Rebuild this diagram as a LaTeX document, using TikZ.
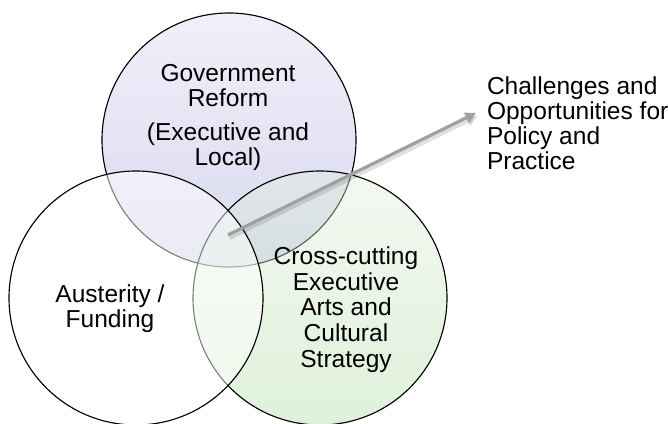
\documentclass[tikz,border=0pt]{standalone}
\usepackage{fontspec}
\setmainfont{Liberation Sans}
\usetikzlibrary{arrows.meta}
\definecolor{lavTop}{RGB}{240,240,250}
\definecolor{lavBot}{RGB}{216,216,239}
\definecolor{grnTop}{RGB}{227,240,222}
\definecolor{grnBot}{RGB}{177,222,167}
\definecolor{arrowgray}{RGB}{160,160,160}
\begin{document}
\begin{tikzpicture}[x=0.75pt,y=-0.75pt,
  venn/.style={circle, draw=black, line width=0.85pt, minimum size=190.5pt, inner sep=0pt, outer sep=0pt},
  label/.style={inner sep=0pt, outer sep=0pt, font=\fontsize{18.4pt}{18.75pt}\selectfont, text=black},
  connector/.style={draw=arrowgray, line width=2.4pt, -{Triangle[length=8pt,width=8pt]}},
  shadowline/.style={draw=black, opacity=0.12, line width=3pt, -{Triangle[length=8.5pt,width=8.5pt]}}
]
\useasboundingbox (0,0) rectangle (668,424);
% circles
\node[venn, top color=lavTop, bottom color=lavBot] (gov) at (229,140) {};
\node[venn, top color=grnTop, bottom color=grnBot, fill opacity=0.42] (arts) at (320,298) {};
\node[venn, fill=white, fill opacity=0.5] (aus) at (136,298) {};
% texts
\node[label, align=center, anchor=north] (govtxt) at (228,64)
  {Government\\Reform\\[7pt](Executive and\\Local)};
\node[label, align=center, anchor=north] (austxt) at (110,285)
  {Austerity /\\Funding};
\node[label, align=center, anchor=north, font=\fontsize{18.4pt}{19.2pt}\selectfont] (artstxt) at (346,247)
  {Cross-cutting\\Executive\\Arts and\\Cultural\\Strategy};
\node[label, align=left, anchor=north west] (chal) at (487,77)
  {Challenges and\\Opportunities for\\Policy and\\Practice};
% arrow
\coordinate (start) at (228,235);
\coordinate (tip) at (476,113);
\coordinate (start2) at (229.5,238);
\coordinate (tip2) at (477.5,116);
\draw[shadowline] (start2) -- (tip2);
\draw[connector] (start) -- (tip);
\end{tikzpicture}
\end{document}
